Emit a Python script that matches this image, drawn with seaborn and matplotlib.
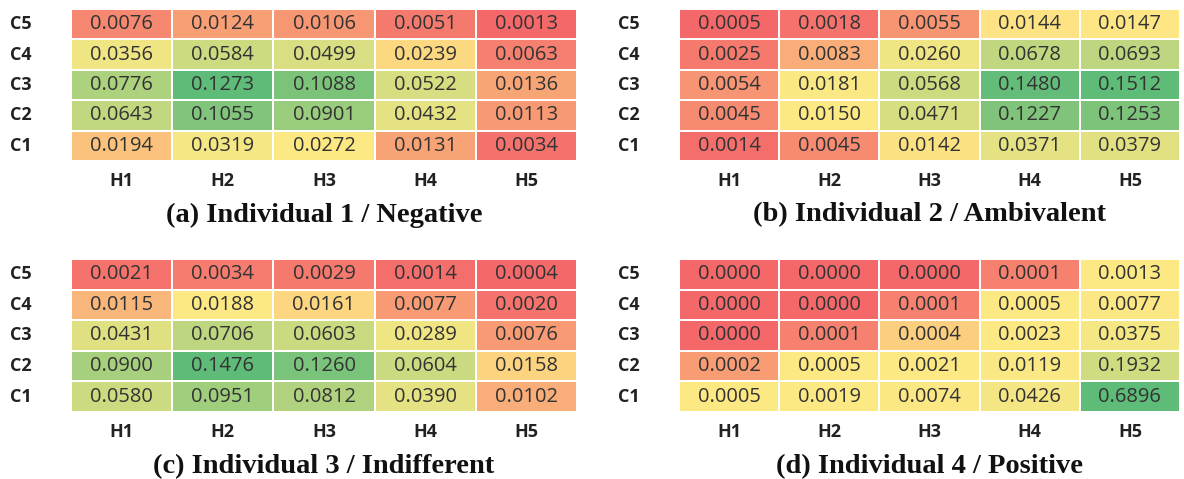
import numpy as np
import matplotlib
matplotlib.use("Agg")
import matplotlib.pyplot as plt
import seaborn as sns
from matplotlib.colors import LinearSegmentedColormap, TwoSlopeNorm

# rows listed top to bottom as in the figure
rows = ["C5", "C4", "C3", "C2", "C1"]
cols = ["H1", "H2", "H3", "H4", "H5"]

vals_a = [[0.0076, 0.0124, 0.0106, 0.0051, 0.0013],
          [0.0356, 0.0584, 0.0499, 0.0239, 0.0063],
          [0.0776, 0.1273, 0.1088, 0.0522, 0.0136],
          [0.0643, 0.1055, 0.0901, 0.0432, 0.0113],
          [0.0194, 0.0319, 0.0272, 0.0131, 0.0034]]

vals_b = [[0.0005, 0.0018, 0.0055, 0.0144, 0.0147],
          [0.0025, 0.0083, 0.0260, 0.0678, 0.0693],
          [0.0054, 0.0181, 0.0568, 0.1480, 0.1512],
          [0.0045, 0.0150, 0.0471, 0.1227, 0.1253],
          [0.0014, 0.0045, 0.0142, 0.0371, 0.0379]]

vals_c = [[0.0021, 0.0034, 0.0029, 0.0014, 0.0004],
          [0.0115, 0.0188, 0.0161, 0.0077, 0.0020],
          [0.0431, 0.0706, 0.0603, 0.0289, 0.0076],
          [0.0900, 0.1476, 0.1260, 0.0604, 0.0158],
          [0.0580, 0.0951, 0.0812, 0.0390, 0.0102]]

vals_d = [[0.0000, 0.0000, 0.0000, 0.0001, 0.0013],
          [0.0000, 0.0000, 0.0001, 0.0005, 0.0077],
          [0.0000, 0.0001, 0.0004, 0.0023, 0.0375],
          [0.0002, 0.0005, 0.0021, 0.0119, 0.1932],
          [0.0005, 0.0019, 0.0074, 0.0426, 0.6896]]

titles = ["(a) Individual 1 / Negative", "(b) Individual 2 / Ambivalent",
          "(c) Individual 3 / Indifferent", "(d) Individual 4 / Positive"]

# excel-style 3 colour scale: min red, median yellow, max green
ryg = LinearSegmentedColormap.from_list("ryg", ["#F4686A", "#FDE984", "#5FBB78"])

fig = plt.figure(figsize=(11.84, 4.79), dpi=100)

# axes boxes in figure fractions (left, bottom, width, height)
boxes = [(71/1184, 1-161/479, 506/1184, 152/479),
         (679/1184, 1-161/479, 501/1184, 152/479),
         (71/1184, 1-412/479, 506/1184, 153/479),
         (679/1184, 1-412/479, 501/1184, 153/479)]

for vals, title, box in zip([vals_a, vals_b, vals_c, vals_d], titles, boxes):
    arr = np.array(vals)
    ax = fig.add_axes(box)
    norm = TwoSlopeNorm(vmin=arr.min(), vcenter=np.median(arr), vmax=arr.max())
    sns.heatmap(arr, ax=ax, cmap=ryg, norm=norm, cbar=False,
                annot=True, fmt=".4f",
                annot_kws=dict(fontsize=14.5, color="#333333", family="Open Sans"),
                linewidths=1.2, linecolor="white",
                xticklabels=cols, yticklabels=rows)
    ax.tick_params(length=0)
    ax.tick_params(axis="y", pad=36)
    ax.tick_params(axis="x", pad=8)
    for t in ax.get_yticklabels():
        t.set_rotation(0)
        t.set_ha("center")
        t.set_fontweight("bold")
        t.set_fontsize(13)
        t.set_family("Open Sans")
        t.set_color("#222222")
    for t in ax.get_xticklabels():
        t.set_fontweight("bold")
        t.set_fontsize(13)
        t.set_family("Open Sans")
        t.set_color("#222222")
    ax.text(0.5, -0.355, title, transform=ax.transAxes, ha="center", va="center",
            fontsize=20.5, fontweight="bold", family="Liberation Serif", color="#111111")

fig.savefig("out.png", dpi=100)
